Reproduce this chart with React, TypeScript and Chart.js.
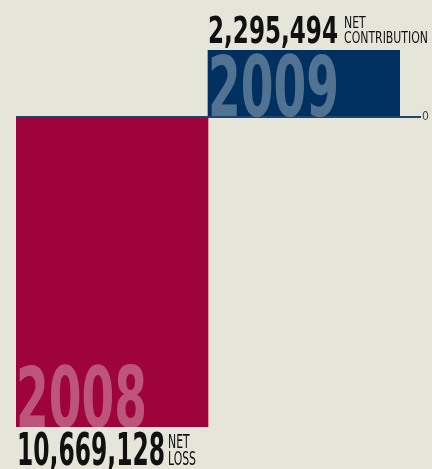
import React, { useEffect, useRef } from "react";
import { Chart, registerables } from "chart.js";

Chart.register(...registerables);

const CATEGORIES = ["2008", "2009"];
const VALUES = [-10669128, 2295494];
const BAR_COLORS = ["#9e043a", "#00305f"];
const DESCRIPTORS = [
  ["NET", "LOSS"],
  ["NET", "CONTRIBUTION"],
];
const Y_TICKS = [0];

const BG = "#e5e5da";
const ZERO_LINE = "#1c4670";
const FAM = "'Liberation Sans Narrow', 'DejaVu Sans Condensed', 'Roboto Condensed', sans-serif";

function drawFit(
  ctx: CanvasRenderingContext2D,
  text: string,
  x: number,
  baseline: number,
  size: number,
  weight: string,
  color: string,
  targetWidth: number
): number {
  ctx.save();
  ctx.font = `${weight} ${size}px ${FAM}`;
  ctx.fillStyle = color;
  ctx.textAlign = "left";
  ctx.textBaseline = "alphabetic";
  const w = ctx.measureText(text).width;
  const sx = targetWidth / w;
  ctx.translate(x, baseline);
  ctx.scale(sx, 1);
  ctx.fillText(text, 0, 0);
  ctx.restore();
  return sx;
}

function drawWithScale(
  ctx: CanvasRenderingContext2D,
  text: string,
  x: number,
  baseline: number,
  size: number,
  weight: string,
  color: string,
  sx: number
) {
  ctx.save();
  ctx.font = `${weight} ${size}px ${FAM}`;
  ctx.fillStyle = color;
  ctx.textAlign = "left";
  ctx.textBaseline = "alphabetic";
  ctx.translate(x, baseline);
  ctx.scale(sx, 1);
  ctx.fillText(text, 0, 0);
  ctx.restore();
}

function scaleFor(ctx: CanvasRenderingContext2D, text: string, size: number, weight: string, target: number) {
  ctx.save();
  ctx.font = `${weight} ${size}px ${FAM}`;
  const w = ctx.measureText(text).width;
  ctx.restore();
  return target / w;
}

const labelPlugin = {
  id: "barLabels",
  afterDatasetsDraw(chart: any) {
    const ctx: CanvasRenderingContext2D = chart.ctx;
    const meta = chart.getDatasetMeta(0);
    meta.data.forEach((bar: any, i: number) => {
      const { x, y, base, width } = bar.getProps(["x", "y", "base", "width"], true);
      const left = x - width / 2;
      const top = Math.min(y, base);
      const bottom = Math.max(y, base);
      const v = VALUES[i];
      // year label inside bar, anchored bottom-left
      drawFit(ctx, CATEGORIES[i], left, bottom, 84, "bold", "rgba(255,255,255,0.32)", 131);

      const txt = Math.abs(v).toLocaleString("en-US");
      const desc = DESCRIPTORS[i];
      if (v >= 0) {
        const bl = top - 7.5;
        drawFit(ctx, txt, left, bl, 38, "bold", "#111", 130);
        const sx = scaleFor(ctx, desc[1], 15.5, "normal", 84);
        drawWithScale(ctx, desc[0], left + 136, bl - 15, 15.5, "normal", "#111", sx);
        drawWithScale(ctx, desc[1], left + 136, bl, 15.5, "normal", "#111", sx);
      } else {
        const bl = bottom + 38;
        drawFit(ctx, txt, left + 1, bl, 45, "bold", "#111", 148);
        const sx = scaleFor(ctx, desc[1], 19, "normal", 28);
        drawWithScale(ctx, desc[0], left + 152, bl - 17, 19, "normal", "#111", sx);
        drawWithScale(ctx, desc[1], left + 152, bl, 19, "normal", "#111", sx);
      }
    });
  },
};

export default function App() {
  const ref = useRef<HTMLCanvasElement | null>(null);
  useEffect(() => {
    if (!ref.current) return;
    const chart = new Chart(ref.current, {
      type: "bar",
      data: {
        labels: CATEGORIES,
        datasets: [
          {
            data: VALUES,
            backgroundColor: BAR_COLORS,
            borderWidth: 0,
            barPercentage: 1,
            categoryPercentage: 1,
          },
        ],
      },
      options: {
        animation: false,
        responsive: true,
        maintainAspectRatio: false,
        layout: { padding: { top: 50, bottom: 42, left: 16, right: 0 } },
        plugins: { legend: { display: false }, tooltip: { enabled: false } },
        scales: {
          x: { display: false },
          y: {
            position: "right",
            min: Math.min(...VALUES),
            max: Math.max(...VALUES),
            z: 1,
            afterBuildTicks: (axis: any) => {
              axis.ticks = Y_TICKS.map((v) => ({ value: v }));
            },
            afterFit: (axis: any) => {
              axis.width = 32;
            },
            border: { display: false },
            grid: {
              color: (c: any) => (c.tick && c.tick.value === 0 ? ZERO_LINE : "transparent"),
              lineWidth: 2,
              tickLength: 21,
              drawOnChartArea: true,
            },
            ticks: {
              padding: 1,
              color: "#444",
              font: { size: 12, family: FAM },
              callback: (v: any) => String(v),
            },
          },
        },
      } as any,
      plugins: [labelPlugin],
    });
    return () => chart.destroy();
  }, []);
  return (
    <div style={{ position: "fixed", left: 0, top: 0, width: 432, height: 469, background: BG }}>
      <canvas ref={ref} />
    </div>
  );
}
